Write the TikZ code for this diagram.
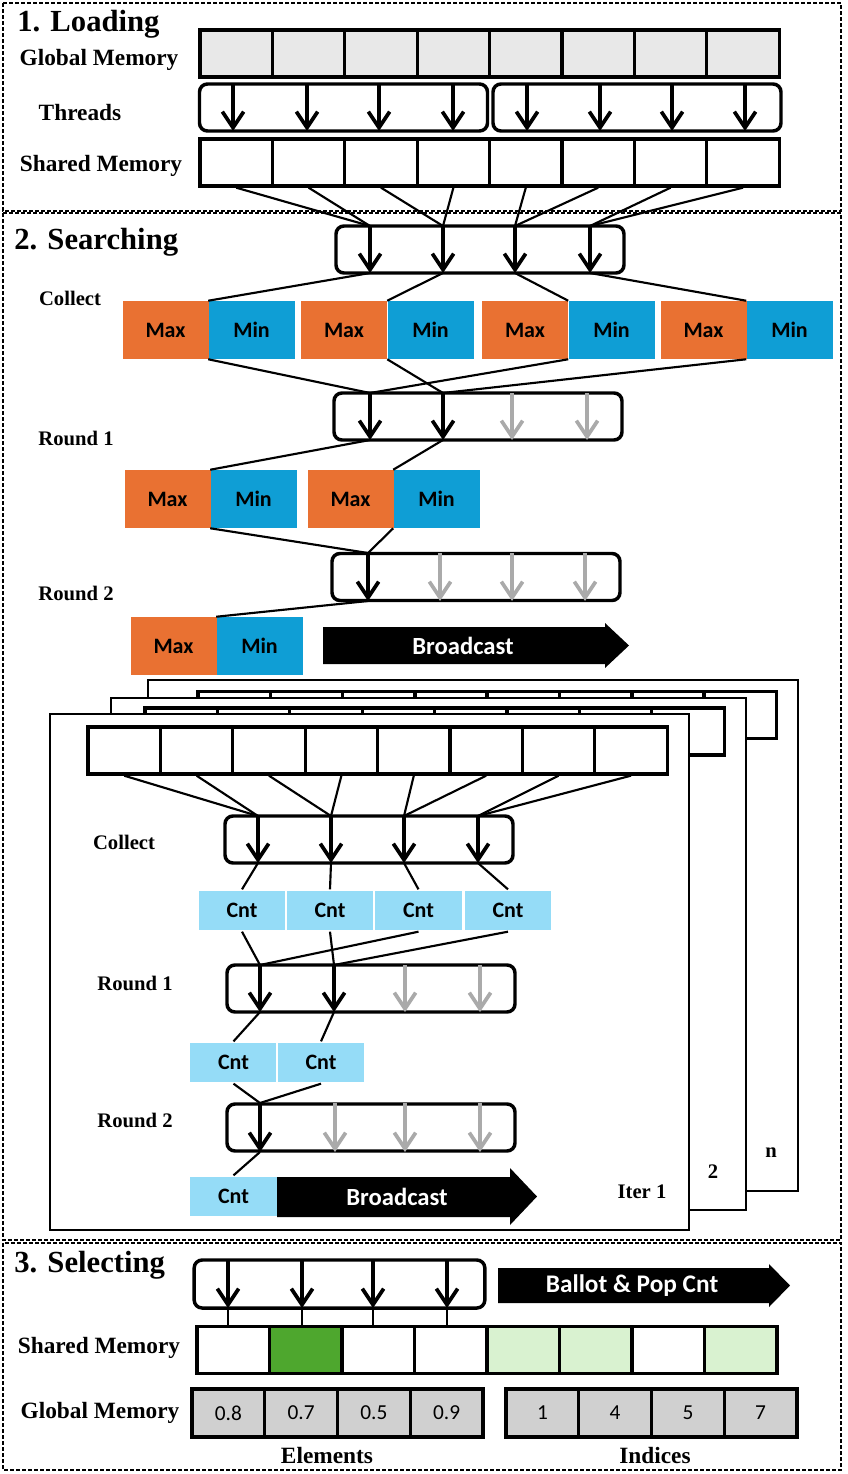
\documentclass[tikz,border=0pt]{standalone}
\usepackage{fontspec}
\newfontfamily\cellfont{Carlito}
\newfontfamily\labelfont{Liberation Serif}
\usetikzlibrary{arrows.meta}
\definecolor{maxorange}{HTML}{E97132}
\definecolor{minblue}{HTML}{0F9ED5}
\definecolor{cntblue}{HTML}{95DCF7}
\definecolor{memgray}{HTML}{E8E8E8}
\definecolor{valgray}{HTML}{D0D0D0}
\definecolor{hitgreen}{HTML}{4EA72E}
\definecolor{lightgreen}{HTML}{D9F2D0}
\definecolor{idlegray}{HTML}{AAAAAA}

\begin{document}
\begin{tikzpicture}[x=0.75pt, y=-0.75pt,
	cell/.style={draw, line width=2.5pt, minimum width=54.3pt, minimum height=35.25pt, inner sep=0pt},
	val/.style={cell, fill=valgray, minimum width=54.6pt, minimum height=36pt, font=\cellfont\fontsize{16}{19}\selectfont},
	thr/.style={draw, line width=2.6pt, rounded corners=6pt, minimum width=216pt, minimum height=35.25pt, inner sep=0pt},
	busy/.style={line width=2.8pt, -{Straight Barb[length=12pt, width=16pt]}},
	idle/.style={busy, draw=idlegray},
	link/.style={line width=1.6pt},
	mx/.style={fill=maxorange, minimum width=64.5pt, minimum height=43.5pt, inner sep=0pt, font=\cellfont\bfseries\fontsize{16.5}{19}\selectfont},
	mn/.style={mx, fill=minblue},
	cnt/.style={fill=cntblue, draw=white, line width=1pt, minimum width=66pt, minimum height=30.75pt, inner sep=0pt, font=\cellfont\bfseries\fontsize{16.5}{19}\selectfont},
	bcast/.style={text=white, inner sep=0pt, font=\cellfont\bfseries\fontsize{18.5}{21}\selectfont},
	panel/.style={draw, fill=white, line width=2.2pt, inner sep=0pt},
	sect/.style={draw, line width=1.3pt, dash pattern=on 3pt off 1.5pt},
	ttl/.style={anchor=west, inner sep=0pt, font=\labelfont\bfseries\fontsize{23}{27}\selectfont},
	lbl/.style={inner sep=0pt, font=\labelfont\bfseries\fontsize{17.5}{20}\selectfont},
	rnd/.style={inner sep=0pt, font=\labelfont\bfseries\fontsize{15.5}{18}\selectfont}]
		\useasboundingbox (0,0) rectangle (847,1474);
		
		\draw[sect] (3,3) rectangle (841,211);
		\draw[sect] (3,213) rectangle (841,1240);
		\draw[sect] (3,1243) rectangle (841,1470);
		
		\node[ttl] (ld) at (17,24) {1. Loading};
		\node[lbl] (gml) at (99,60) {Global Memory};
		\node[lbl] (thl) at (80,113) {Threads};
		\node[lbl] (sml) at (101,166) {Shared Memory};
		
		\foreach \i in {1,...,8} {
			\node[cell, fill=memgray] (g\i) at ({200+72.4*(\i-0.5)},53.5) {};
			\node[cell] (s\i) at ({200+72.4*(\i-0.5)},162.5) {};
		}
		\node[thr] (tb1) at (343.5,107.5) {};
		\node[thr] (tb2) at (637,107.5) {};
		\foreach \x [count=\i] in {233,307,379,453,527,600,672,745} {
			\coordinate (lt\i) at (\x,84);
			\coordinate (lb\i) at (\x,131);
			\draw[busy] (lt\i) -- (lb\i);
		}
		
		\node[ttl] (sr) at (14,242) {2. Searching};
		\node[rnd] (cl1) at (70,298) {Collect};
		\node[rnd] (ra1) at (76,438) {Round 1};
		\node[rnd] (ra2) at (76,593) {Round 2};
		
		\node[thr] (colbox) at (480,249.5) {};
		\node[thr] (r1box) at (478,416.5) {};
		\node[thr] (r2box) at (476,577) {};
		\foreach \x [count=\i] in {370,443,515,590} {
			\coordinate (ct\i) at (\x,226);
			\coordinate (cb\i) at (\x,273);
			\draw[busy] (ct\i) -- (cb\i);
		}
		\foreach \x [count=\i] in {370,443,512,587} {
			\coordinate (at\i) at (\x,393);
			\coordinate (ab\i) at (\x,440);
		}
		\foreach \x [count=\i] in {368,440,512,585} {
			\coordinate (bt\i) at (\x,553);
			\coordinate (bb\i) at (\x,601);
		}
		\draw[busy] (at1) -- (ab1);
		\draw[busy] (at2) -- (ab2);
		\draw[idle] (at3) -- (ab3);
		\draw[idle] (at4) -- (ab4);
		\draw[busy] (bt1) -- (bb1);
		\draw[idle] (bt2) -- (bb2);
		\draw[idle] (bt3) -- (bb3);
		\draw[idle] (bt4) -- (bb4);
		
		\node[mx] (mx1) at (165.5,330) {Max};
		\node[mn] (mn1) at (251.5,330) {Min};
		\node[mx] (mx2) at (344,330) {Max};
		\node[mn] (mn2) at (430.5,330) {Min};
		\node[mx] (mx3) at (525,330) {Max};
		\node[mn] (mn3) at (611.5,330) {Min};
		\node[mx] (mx4) at (703.5,330) {Max};
		\node[mn] (mn4) at (789.5,330) {Min};
		\node[mx] (mx5) at (167.5,499) {Max};
		\node[mn] (mn5) at (253.5,499) {Min};
		\node[mx] (mx6) at (350.5,499) {Max};
		\node[mn] (mn6) at (436.5,499) {Min};
		\node[mx] (mx7) at (173.5,646) {Max};
		\node[mn] (mn7) at (259.5,646) {Min};
		
		\foreach \i/\j in {1/1,2/1,3/2,4/2,5/3,6/3,7/4,8/4}
			\draw[link] (s\i.south) -- (ct\j);
		\foreach \i in {1,...,4}
			\draw[link] (cb\i) -- (mn\i.north west);
		\draw[link] (mn1.south west) -- (at1);
		\draw[link] (mn2.south west) -- (at2);
		\draw[link] (mn3.south west) -- (at1);
		\draw[link] (mn4.south west) -- (at2);
		\draw[link] (ab1) -- (mn5.north west);
		\draw[link] (ab2) -- (mn6.north west);
		\draw[link] (mn5.south west) -- (bt1);
		\draw[link] (mn6.south west) -- (bt1);
		\draw[link] (bb1) -- (mn7.north west);
		
		\fill (323,627) -- (605,627) -- (605,623) -- (629,645.5) -- (605,668) -- (605,664) -- (323,664) -- cycle;
		\node[bcast] (bc1) at (463,646) {Broadcast};
		
		\node[panel, minimum width=487.5pt, minimum height=383.25pt] (itn) at (473,935.5) {};
		\foreach \i in {1,...,8}
			\node[cell] (pn\i) at ({198+72.3*(\i-0.5)},715) {};
		\node[panel, minimum width=476.25pt, minimum height=384pt] (it2) at (428.5,954) {};
		\foreach \i in {1,...,8}
			\node[cell] (pm\i) at ({145+72.4*(\i-0.5)},731.5) {};
		\node[panel, minimum width=479.25pt, minimum height=387pt] (it1) at (369.5,972) {};
		\foreach \i in {1,...,8}
			\node[cell] (f\i) at ({88+72.4*(\i-0.5)},750.5) {};
		
		\node[rnd] (cl2) at (124,842) {Collect};
		\node[rnd] (ra3) at (135,983) {Round 1};
		\node[rnd] (ra4) at (135,1120) {Round 2};
		\node[rnd] (itl1) at (642,1192) {Iter 1};
		\node[rnd] (itl2) at (713,1172) {2};
		\node[rnd] (itln) at (771,1153) {n};
		
		\node[thr] (colbox2) at (369,839.5) {};
		\node[thr] (r3box) at (371,988.5) {};
		\node[thr] (r4box) at (371,1127.5) {};
		\foreach \x [count=\i] in {258,331,404,478} {
			\coordinate (kt\i) at (\x,816);
			\coordinate (kb\i) at (\x,863);
			\draw[busy] (kt\i) -- (kb\i);
		}
		\foreach \x [count=\i] in {260,334,405,480} {
			\coordinate (mt\i) at (\x,965);
			\coordinate (mb\i) at (\x,1012);
		}
		\foreach \x [count=\i] in {260,335,405,480} {
			\coordinate (nt\i) at (\x,1103);
			\coordinate (nb\i) at (\x,1152);
		}
		\draw[busy] (mt1) -- (mb1);
		\draw[busy] (mt2) -- (mb2);
		\draw[idle] (mt3) -- (mb3);
		\draw[idle] (mt4) -- (mb4);
		\draw[busy] (nt1) -- (nb1);
		\draw[idle] (nt2) -- (nb2);
		\draw[idle] (nt3) -- (nb3);
		\draw[idle] (nt4) -- (nb4);
		
		\node[cnt] (q1) at (242,910.5) {Cnt};
		\node[cnt] (q2) at (330,910.5) {Cnt};
		\node[cnt] (q3) at (418.5,910.5) {Cnt};
		\node[cnt] (q4) at (508,910.5) {Cnt};
		\node[cnt] (q5) at (233.5,1062.5) {Cnt};
		\node[cnt] (q6) at (321,1062.5) {Cnt};
		\node[cnt] (q7) at (233.5,1196.5) {Cnt};
		
		\foreach \i/\j in {1/1,2/1,3/2,4/2,5/3,6/3,7/4,8/4}
			\draw[link] (f\i.south) -- (kt\j);
		\foreach \i in {1,...,4}
			\draw[link] (kb\i) -- (q\i.north);
		\draw[link] (q1.south) -- (mt1);
		\draw[link] (q2.south) -- (mt2);
		\draw[link] (q3.south) -- (mt1);
		\draw[link] (q4.south) -- (mt2);
		\draw[link] (mb1) -- (q5.north);
		\draw[link] (mb2) -- (q6.north);
		\draw[link] (q5.south) -- (nt1);
		\draw[link] (q6.south) -- (nt1);
		\draw[link] (nb1) -- (q7.north);
		
		\fill (277,1177) -- (510,1177) -- (510,1168) -- (537,1196.5) -- (510,1225) -- (510,1217) -- (277,1217) -- cycle;
		\node[bcast] (bc2) at (397,1197) {Broadcast};
		
		\node[ttl] (sl) at (14,1265) {3. Selecting};
		\node[lbl] (sml2) at (99,1348) {Shared Memory};
		\node[lbl] (gml2) at (100,1413) {Global Memory};
		\node[lbl] (el) at (327,1455) {Elements};
		\node[lbl] (ix) at (655,1455) {Indices};
		
		\node[thr, minimum width=218pt, minimum height=36pt] (selbox) at (339.5,1284) {};
		\foreach \i/\c in {1/white,2/hitgreen,3/white,4/white,5/lightgreen,6/lightgreen,7/white,8/lightgreen}
			\node[cell, fill=\c] (u\i) at ({197+72.5*(\i-0.5)},1350) {};
		\foreach \x [count=\i] in {228,302,373,447} {
			\coordinate (vt\i) at (\x,1260);
			\coordinate (vb\i) at (\x,1308);
			\draw[busy] (vt\i) -- (vb\i);
			\draw[link] (vb\i) -- (vb\i |- u\i.north);
		}
		
		\node[val] (e1) at (228.4,1413) {0.8};
		\node[val] (e2) at (301.1,1413) {0.7};
		\node[val] (e3) at (373.9,1413) {0.5};
		\node[val] (e4) at (446.6,1413) {0.9};
		\node[val] (i1) at (542.4,1413) {1};
		\node[val] (i2) at (615.1,1413) {4};
		\node[val] (i3) at (687.9,1413) {5};
		\node[val] (i4) at (760.6,1413) {7};
		
		\fill (498,1268) -- (769,1268) -- (769,1264) -- (790,1285.5) -- (769,1307) -- (769,1303) -- (498,1303) -- cycle;
		\node[bcast, font=\cellfont\bfseries\fontsize{19}{22}\selectfont] (bp) at (632,1286) {Ballot \& Pop Cnt};
		\end{tikzpicture}
\end{document}
